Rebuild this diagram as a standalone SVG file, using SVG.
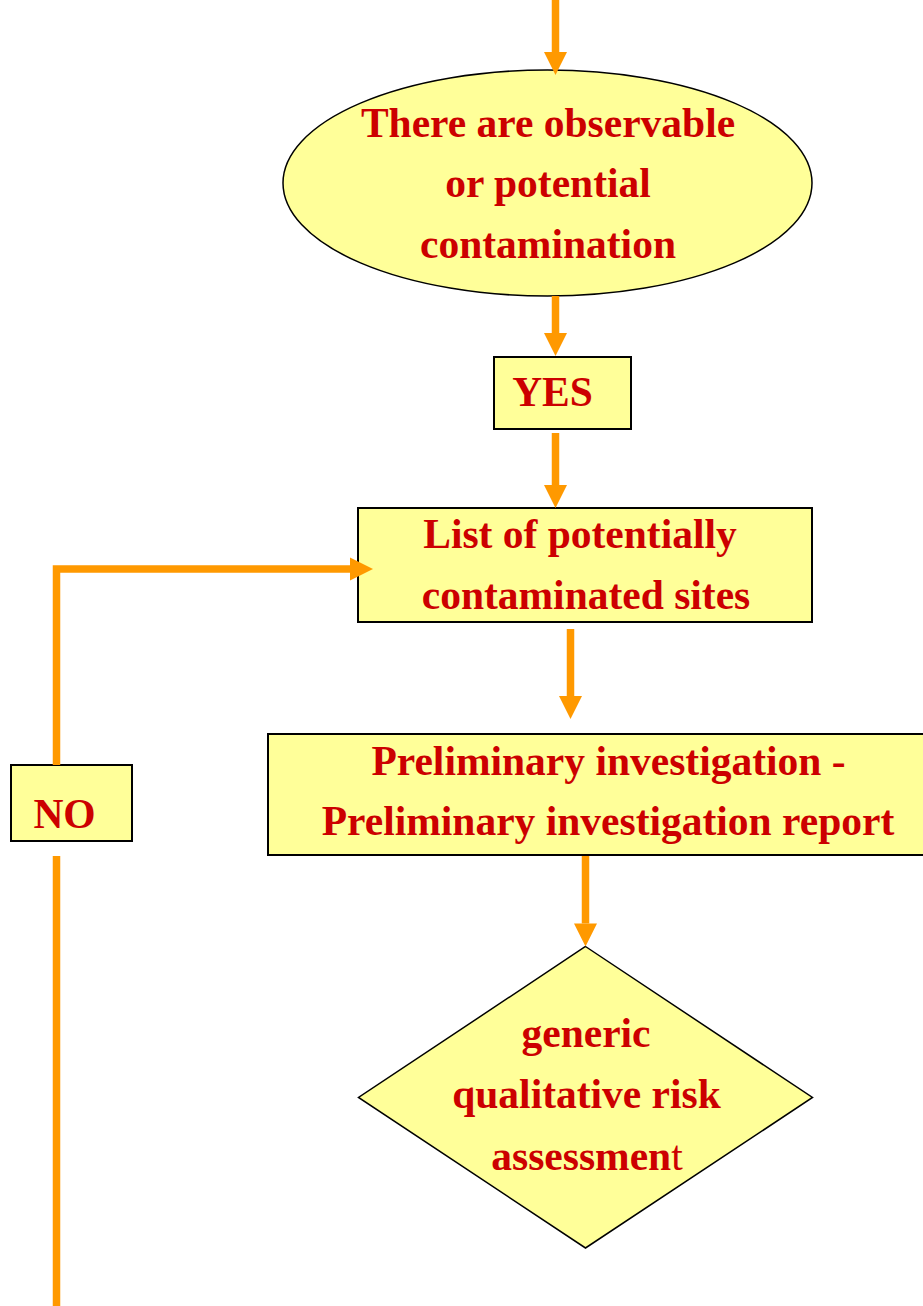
<svg xmlns="http://www.w3.org/2000/svg" width="923" height="1306" viewBox="0 0 923 1306">
<style>
.shape{fill:#FFFF99;stroke:#000;stroke-width:2}
.thin{stroke-width:1.5}
.t{font-family:"Liberation Serif","Times New Roman",serif;font-weight:bold;font-size:41.5px;fill:#CC0000;text-anchor:middle}
.c{fill:none;stroke:#FF9900;stroke-width:7.5;stroke-linejoin:miter}
</style>
<defs>
<marker id="ah" markerUnits="userSpaceOnUse" markerWidth="24" markerHeight="24" refX="0" refY="11.5" orient="auto" overflow="visible">
<path d="M0,0 L23,11.5 L0,23 z" fill="#FF9900"/>
</marker>
</defs>
<g id="n_contam">
<ellipse class="shape thin" cx="547.5" cy="183" rx="264.5" ry="113"/>
<text class="t" x="548" y="137">There are observable</text>
<text class="t" x="548" y="197">or potential</text>
<text class="t" x="548" y="258">contamination</text>
</g>
<g id="n_yes">
<rect class="shape" x="494" y="357" width="137" height="72"/>
<text class="t" x="552.5" y="406">YES</text>
</g>
<g id="n_list">
<rect class="shape" x="358" y="508" width="454" height="114"/>
<text class="t" x="580" y="548">List of potentially</text>
<text class="t" x="586" y="609">contaminated sites</text>
</g>
<g id="n_prelim">
<rect class="shape" x="268" y="734" width="670" height="121"/>
<text class="t" x="608.5" y="775">Preliminary investigation -</text>
<text class="t" x="608" y="835">Preliminary investigation report</text>
</g>
<g id="n_no">
<rect class="shape" x="11" y="765" width="121" height="76"/>
<text class="t" x="64.5" y="828">NO</text>
</g>
<g id="n_risk">
<polygon class="shape thin" points="585.5,946.5 812.5,1097.5 585.5,1248 358.5,1097.5"/>
<text class="t" x="586" y="1047">generic</text>
<text class="t" x="586.5" y="1108">qualitative risk</text>
<text class="t" x="587" y="1170">assessmen<tspan font-weight="normal">t</tspan></text>
</g>
<g id="connectors">
<path class="c" d="M555.5,0 V52" marker-end="url(#ah)"/>
<path class="c" d="M555.5,296 V333" marker-end="url(#ah)"/>
<path class="c" d="M555.5,433 V485" marker-end="url(#ah)"/>
<path class="c" d="M570.5,629 V696" marker-end="url(#ah)"/>
<path class="c" d="M585.5,856 V923.5" marker-end="url(#ah)"/>
<path class="c" d="M56.5,765 V569 H350" marker-end="url(#ah)"/>
<path class="c" d="M56.5,856 V1306"/>
</g>
</svg>
